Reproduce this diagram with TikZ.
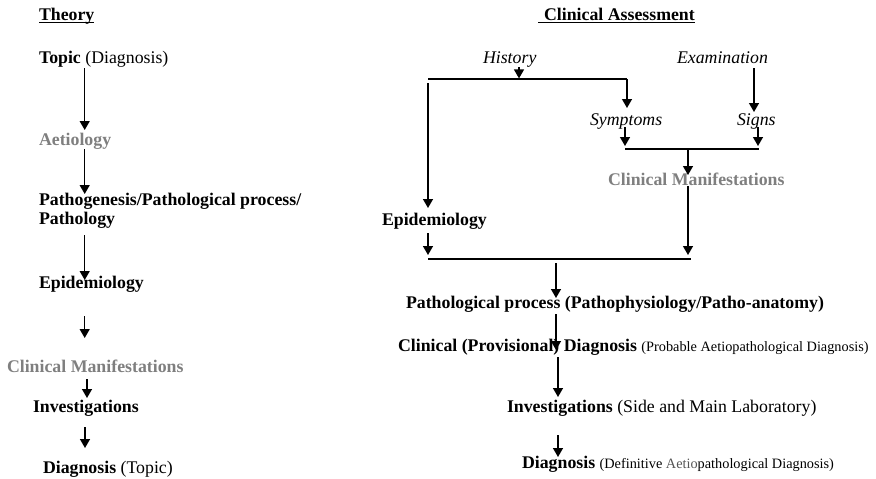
\documentclass[tikz,border=0pt]{standalone}
\usepackage{fontspec}
\setmainfont{Liberation Serif}
\usetikzlibrary{arrows.meta}
\definecolor{lgray}{HTML}{7F7F7F}
\definecolor{aetio}{HTML}{555555}
\newcommand{\mainsz}{\fontsize{17.8}{20}\selectfont}
\newcommand{\smallsz}{\fontsize{14.3}{16}\selectfont}
\tikzset{
  txt/.style={anchor=base west,inner sep=0pt,outer sep=0pt,font=\mainsz},
  gtxt/.style={txt,text=lgray,font=\mainsz\bfseries},
  arr/.style={draw=black,line width=1.4pt,-{Triangle[width=10pt,length=9pt]}},
  ln/.style={draw=black,line width=1.4pt},
  uline/.style={draw=black,line width=1pt}
}
\begin{document}
\begin{tikzpicture}[x=1pt,y=-1pt]
\useasboundingbox (0,0) rectangle (876,479);
% ---------------- Theory column ----------------
\node[txt] (theory) at (39,20) {\textbf{Theory}};
\node[txt] (topic) at (39,63) {\textbf{Topic} (Diagnosis)};
\node[gtxt] (aetio) at (39,145) {Aetiology};
\node[txt] (patho1) at (39,205) {\textbf{Pathogenesis/Pathological process/}};
\node[txt] (patho2) at (39,224) {\textbf{Pathology}};
\node[txt] (epiL) at (39,288) {\textbf{Epidemiology}};
\node[gtxt] (cmL) at (7,372) {Clinical Manifestations};
\node[txt] (invL) at (33,412) {\textbf{Investigations}};
\node[txt] (diagL) at (43,473) {\textbf{Diagnosis} (Topic)};
\draw[uline] ([yshift=-2.8pt]theory.base west) -- ([yshift=-2.8pt]theory.base east);

\coordinate (l1a) at (84.7,68);  \coordinate (l1b) at (84.7,130);
\coordinate (l2a) at (84.7,149); \coordinate (l2b) at (84.7,194);
\coordinate (l3a) at (84.7,235); \coordinate (l3b) at (84.7,280);
\coordinate (l4a) at (84.7,316); \coordinate (l4b) at (84.7,338);
\coordinate (l5a) at (87,379);   \coordinate (l5b) at (87,398);
\coordinate (l6a) at (85,427);   \coordinate (l6b) at (85,448);
\draw[arr] (l1a) -- (l1b);
\draw[arr] (l2a) -- (l2b);
\draw[arr] (l3a) -- (l3b);
\draw[arr] (l4a) -- (l4b);
\draw[arr] (l5a) -- (l5b);
\draw[arr] (l6a) -- (l6b);

% ---------------- Clinical Assessment column ----------------
\node[txt] (ca) at (544,20) {\textbf{Clinical Assessment}};
\coordinate (cau1) at (538,22.8);
\draw[uline] (cau1) -- ([yshift=-2.8pt]ca.base east);
\node[txt] (hist) at (483,63) {\textit{History}};
\node[txt] (exam) at (677,63) {\textit{Examination}};
\node[txt] (symp) at (590,125) {\textit{Symptoms}};
\node[txt] (signs) at (737,125) {\textit{Signs}};
\node[gtxt] (cmR) at (608,185) {Clinical Manifestations};
\node[txt] (epiR) at (382,225) {\textbf{Epidemiology}};
\node[txt] (pp) at (406,308) {\textbf{Pathological process (Pathophysiology/Patho-anatomy)}};
\node[txt] (cd) at (398,351) {\textbf{Clinical (Provisional) Diagnosis} {\smallsz(Probable Aetiopathological Diagnosis)}};
\node[txt] (invR) at (507,412) {\textbf{Investigations} (Side and Main Laboratory)};
\node[txt] (diagR) at (522,468) {\textbf{Diagnosis} {\smallsz(Definitive \textcolor{aetio}{Aetio}pathological Diagnosis)}};

% junction points
\coordinate (hA) at (519,67);  \coordinate (hB) at (519,78.4);
\coordinate (j1L) at (428,79); \coordinate (j1R) at (627,79);
\coordinate (sympT) at (627,108);
\coordinate (epiTa) at (428,83); \coordinate (epiTb) at (428,208);
\coordinate (exA) at (754,68); \coordinate (exB) at (754,112);
\coordinate (syA) at (625,127); \coordinate (syB) at (625,146);
\coordinate (siA) at (758,127); \coordinate (siB) at (758,146);
\coordinate (j2L) at (625,149); \coordinate (j2R) at (759,149);
\coordinate (j2M) at (688,149); \coordinate (cmT) at (688,175);
\coordinate (cmA) at (688,186); \coordinate (cmB) at (688,255);
\coordinate (epA) at (428,233); \coordinate (epB) at (428,255);
\coordinate (j3L) at (428,259); \coordinate (j3R) at (691,259);
\coordinate (ppA) at (556,263); \coordinate (ppB) at (556,298);
\coordinate (cdA) at (556,314); \coordinate (cdB) at (556,350);
\coordinate (ivA) at (558,357); \coordinate (ivB) at (558,397);
\coordinate (dgA) at (558,435); \coordinate (dgB) at (558,457);

\draw[arr] (hA) -- (hB);
\draw[ln] (j1L) -- (j1R);
\draw[arr] (j1R) -- (sympT);
\draw[arr] (epiTa) -- (epiTb);
\draw[arr] (exA) -- (exB);
\draw[arr] (syA) -- (syB);
\draw[arr] (siA) -- (siB);
\draw[ln] (j2L) -- (j2R);
\draw[arr] (j2M) -- (cmT);
\draw[arr] (cmA) -- (cmB);
\draw[arr] (epA) -- (epB);
\draw[ln] (j3L) -- (j3R);
\draw[arr] (ppA) -- (ppB);
\draw[arr] (cdA) -- (cdB);
\draw[arr] (ivA) -- (ivB);
\draw[arr] (dgA) -- (dgB);
\end{tikzpicture}
\end{document}
